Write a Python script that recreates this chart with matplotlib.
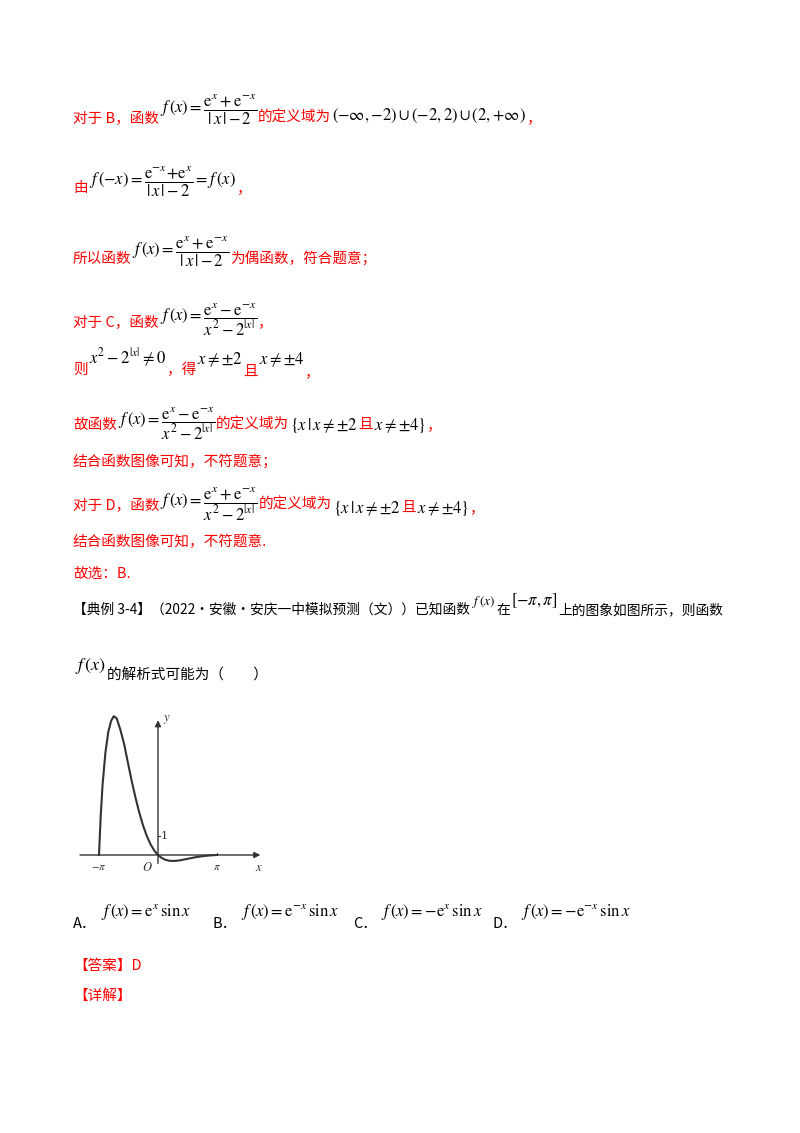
import matplotlib
matplotlib.use("Agg")
import matplotlib.pyplot as plt
import numpy as np

plt.rcParams['font.family'] = ['Noto Sans CJK SC', 'DejaVu Sans']
plt.rcParams['mathtext.fontset'] = 'stix'

# curve values (x, y)
curve_x = [-3.1416, -3.05, -2.95, -2.8, -2.65, -2.5, -2.36, -2.2, -2.0, -1.8, -1.6, -1.4, -1.2,
           -1.0, -0.8, -0.6, -0.4, -0.2, 0.0, 0.2, 0.4, 0.6, 0.8, 1.0, 1.2, 1.6, 2.0, 2.4, 2.8, 3.1416]
curve_y = [0.0, 2.1, 3.8, 5.5, 6.6, 7.2, 7.46, 7.35, 6.72, 5.95, 4.95, 3.98, 3.09,
           2.29, 1.60, 1.03, 0.58, 0.24, 0.0, -0.16, -0.26, -0.31, -0.32, -0.31, -0.28, -0.20, -0.12, -0.06, -0.02, 0.0]

W, H = 800, 1133
fig = plt.figure(figsize=(8, 11.33), dpi=100)
R = fig.canvas.get_renderer()
RED = '#ff0000'
FS = 10.5

def line(items):
    """items: (x, y, s, kind[, va[, size]]) ; kind 'r' red text, 'k' black text, 'm' math"""
    cur = 0
    for it in items:
        x, y, s, kind = it[:4]
        va = it[4] if len(it) > 4 else 'baseline'
        size = it[5] if len(it) > 5 else (FS + 1.5 if kind == 'm' else FS)
        x = max(x, cur)
        color = RED if kind == 'r' else 'black'
        t = fig.text(x / W, 1 - y / H, s, color=color, fontsize=size, va=va, ha='left')
        bb = t.get_window_extent(R)
        cur = bb.x1 + 1

fracB = r'$f\,(x)=\dfrac{\mathrm{e}^{x}+\mathrm{e}^{-x}}{|\,x\,|-2}$'
fracC = r'$f\,(x)=\dfrac{\mathrm{e}^{x}-\mathrm{e}^{-x}}{x^{2}-2^{|x|}}$'
fracD = r'$f\,(x)=\dfrac{\mathrm{e}^{x}+\mathrm{e}^{-x}}{x^{2}-2^{|x|}}$'
setS = r'$\{x\,|\,x\neq{\pm}2$'
set4 = r'$x\neq{\pm}4\}$'

line([(73, 122, '对于 B，函数', 'r'), (157, 110, fracB, 'm', 'center'), (249, 122, '的定义域为', 'r'),
      (318, 120, r'$({-}\infty,{-}2)\cup({-}2,2)\cup(2,{+}\infty)$', 'm'), (482, 122, '，', 'r')])
line([(73, 192, '由', 'r'), (88, 182, r'$f\,({-}x)=\dfrac{\mathrm{e}^{-x}\!+\!\mathrm{e}^{x}}{|\,x\,|-2}=f\,(x)$', 'm', 'center'),
      (228, 192, '，', 'r')])
line([(73, 263, '所以函数', 'r'), (130, 252, fracB, 'm', 'center'), (222, 263, '为偶函数，符合题意；', 'r')])
line([(73, 326, '对于 C，函数', 'r'), (157, 320, fracC, 'm', 'center'), (249, 326, '，', 'r')])
line([(73, 374, '则', 'r'), (88, 364, r'$x^{2}-2^{|x|}\neq0$', 'm'), (152, 374, '，得', 'r'),
      (185, 364, r'$x\neq{\pm}2$', 'm'), (225, 376, '且', 'r'), (240, 364, r'$x\neq{\pm}4$', 'm'), (282, 376, '，', 'r')])
line([(73, 429, '故函数', 'r'), (113, 424, fracC, 'm', 'center'), (207, 429, '的定义域为', 'r'),
      (273, 430, setS, 'm'), (337, 429, '且', 'r'), (350, 430, set4, 'm'), (395, 429, '，', 'r')])
line([(73, 466, '结合函数图像可知，不符题意；', 'r')])
line([(73, 509, '对于 D，函数', 'r'), (157, 504, fracD, 'm', 'center'), (250, 509, '的定义域为', 'r'),
      (320, 513, setS, 'm'), (378, 512, '且', 'r'), (393, 513, set4, 'm'), (440, 512, '，', 'r')])
line([(73, 546, '结合函数图像可知，不符题意.', 'r')])
line([(73, 578, '故选：B.', 'r')])
line([(73, 614, '【典例 3-4】（2022·安徽·安庆一中模拟预测（文））已知函数', 'k', 'baseline', FS - 0.6),
      (472, 605, r'$f\,(x)$', 'm', 'baseline', FS - 1), (490, 614, '在', 'k', 'baseline', FS - 0.6),
      (502, 605, r'$[{-}\pi,\pi]$', 'm'), (538, 614, '上的图象如图所示，则函数', 'k', 'baseline', FS - 0.6)])
line([(75, 670, r'$f\,(x)$', 'm', 'baseline', FS + 2.5), (103, 680, '的解析式可能为（　　）', 'k')])

# graph
x0, x1, y0, y1 = 75, 268, 698, 872
ax = fig.add_axes([x0 / W, 1 - y1 / H, (x1 - x0) / W, (y1 - y0) / H])
ox, oy, pxpi, pxu = 158, 855, 59, 18.6
ax.set_xlim((x0 - ox) / pxpi * np.pi, (x1 - ox) / pxpi * np.pi)
ax.set_ylim((oy - y1) / pxu, (oy - y0) / pxu)
ax.axis('off')
c = '#333333'
ax.plot(curve_x, curve_y, color=c, lw=1.5)
ax.annotate('', xy=(5.6, 0), xytext=(-4.3, 0), arrowprops=dict(arrowstyle='-|>', color=c, lw=1, mutation_scale=9))
ax.annotate('', xy=(0, 7.4), xytext=(0, -0.6), arrowprops=dict(arrowstyle='-|>', color=c, lw=1, mutation_scale=9))
ax.plot([np.pi, np.pi], [0, 0.12], color=c, lw=0.8)
ax.plot([0, 0.12], [1, 1], color=c, lw=0.8)
ax.text(0.15, 1, '1', fontsize=8, va='center', color=c, family='DejaVu Serif')
ax.text(-np.pi, -0.35, r'$-\pi$', fontsize=8, ha='center', va='top', color=c)
ax.text(np.pi, -0.35, r'$\pi$', fontsize=8, ha='center', va='top', color=c)
ax.text(-0.55, -0.3, r'$O$', fontsize=9, ha='center', va='top', color=c)
ax.text(5.4, -0.3, r'$x$', fontsize=9, ha='center', va='top', color=c)
ax.text(0.45, 7.3, r'$y$', fontsize=9, ha='center', va='center', color=c)

# options
opts = [r'$f\,(x)=\mathrm{e}^{x}\,\sin x$', r'$f\,(x)=\mathrm{e}^{-x}\,\sin x$',
        r'$f\,(x)=-\mathrm{e}^{x}\,\sin x$', r'$f\,(x)=-\mathrm{e}^{-x}\,\sin x$']
labs = ['A．', 'B．', 'C．', 'D．']
for i, (lb, o) in enumerate(zip(labs, opts)):
    bx = 73 + 140 * i
    line([(bx, 928, lb, 'k'), (bx + 28, 916, o, 'm')])

line([(73, 970, '【答案】D', 'r')])
line([(73, 1000, '【详解】', 'r')])

fig.savefig('out.png', dpi=100)
